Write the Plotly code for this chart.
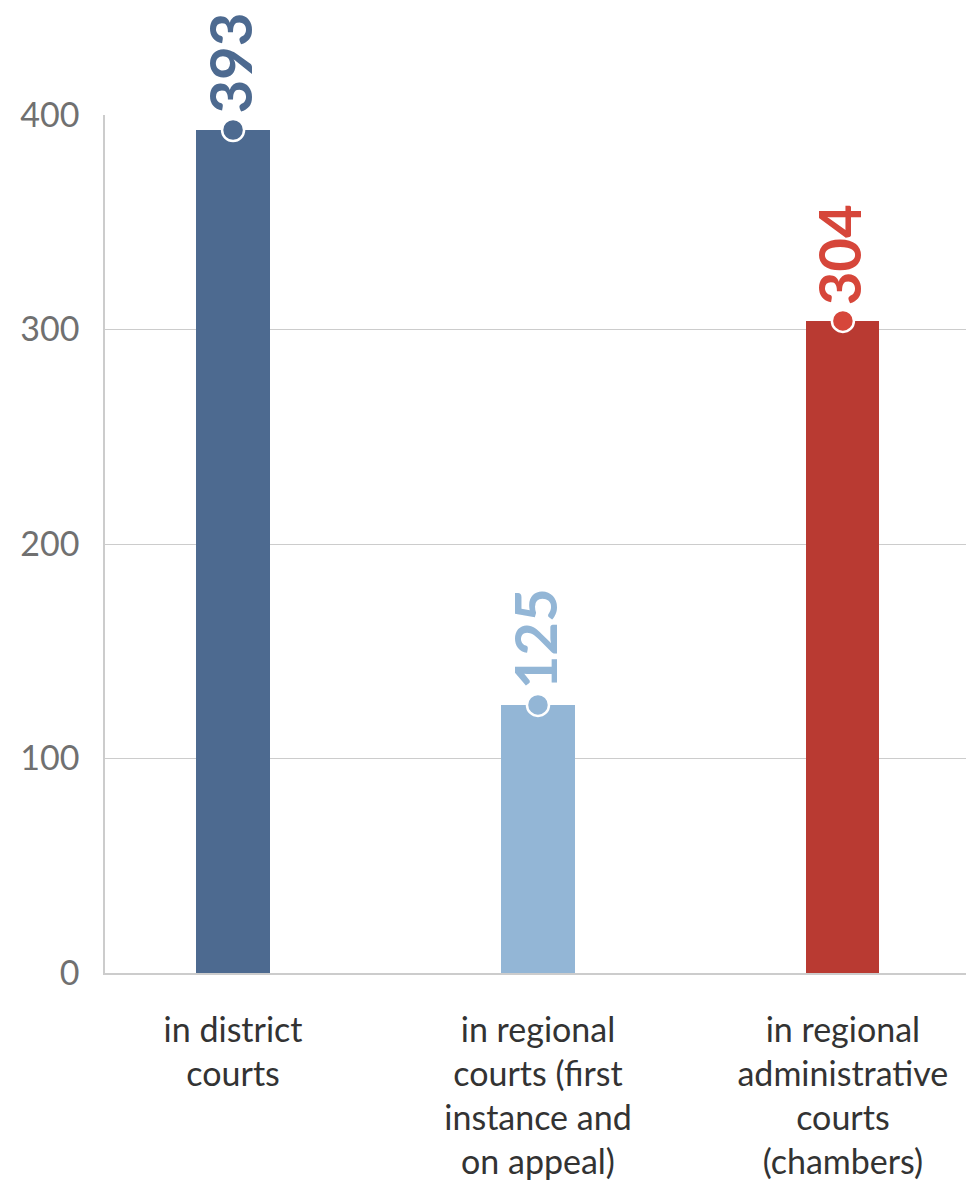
import plotly.graph_objects as go

categories = ["in district<br>courts",
              "in regional<br>courts (first<br>instance and<br>on appeal)",
              "in regional<br>administrative<br>courts<br>(chambers)"]
values = [393, 125, 304]
labels = ["393", "125", "304"]
bar_colors = ["#4d6a90", "#93b6d6", "#b93a32"]
accent_colors = ["#4d6a90", "#93b6d6", "#d6463a"]
y_ticks = [0, 100, 200, 300, 400]

FONT = "Lato, 'Open Sans', sans-serif"

fig = go.Figure()
fig.add_trace(go.Bar(x=categories, y=values, width=0.24,
                     marker=dict(color=bar_colors, line=dict(width=0)),
                     hoverinfo="skip"))
fig.add_trace(go.Scatter(x=categories, y=values, mode="markers",
                         marker=dict(size=22, color=accent_colors,
                                     line=dict(color="white", width=2.5)),
                         cliponaxis=False, hoverinfo="skip"))

for c, v, t, col in zip(categories, values, labels, accent_colors):
    fig.add_annotation(x=c, y=v, text="<b>%s</b>" % t, textangle=-90,
                       showarrow=False, xanchor="center", yanchor="bottom",
                       yshift=14, xshift=-4,
                       font=dict(family=FONT, size=58, color=col))

fig.update_layout(
    width=966, height=1178,
    margin=dict(l=97, r=0, t=107, b=213),
    paper_bgcolor="white", plot_bgcolor="white",
    showlegend=False,
    font=dict(family=FONT),
    bargap=0,
)
fig.update_xaxes(range=[-0.42, 2.43], showgrid=False, automargin=False,
                 showline=True, linecolor="#cccccc", linewidth=1.5,
                 ticks="", ticklabelstandoff=26,
                 tickfont=dict(family=FONT, size=34, color="#333333"))
fig.update_yaxes(range=[0, 400], tickvals=y_ticks, automargin=False,
                 showgrid=True, gridcolor="#cccccc", gridwidth=1,
                 zeroline=False,
                 showline=True, linecolor="#cccccc", linewidth=1.5,
                 ticks="", ticklabelstandoff=17,
                 tickfont=dict(family=FONT, size=34, color="#707070"))

fig.write_html("out.html")
